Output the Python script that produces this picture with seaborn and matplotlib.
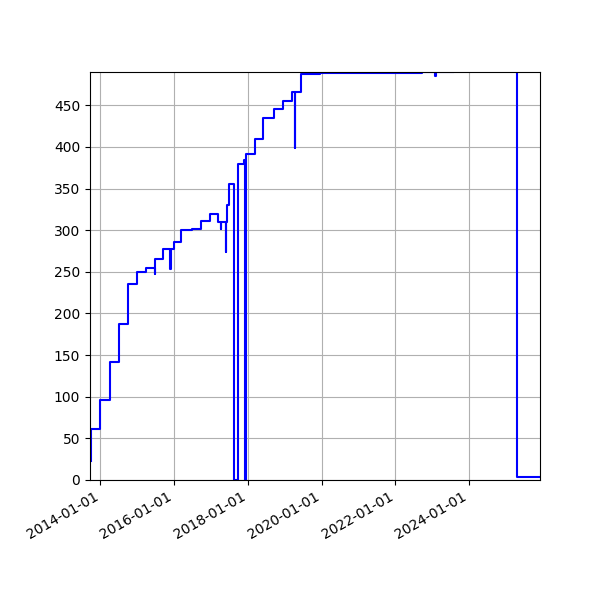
import matplotlib
matplotlib.use("Agg")
import matplotlib.pyplot as plt
import matplotlib.dates as mdates
from matplotlib.ticker import MultipleLocator
import pandas as pd
import seaborn as sns

dates = [
    "2013-09-26", "2013-09-27", "2013-12-24", "2014-04-02", "2014-07-01",
    "2014-10-01", "2014-12-28", "2015-04-01", "2015-06-21", "2015-06-24",
    "2015-09-12", "2015-11-25", "2015-11-28", "2015-12-30", "2016-03-12",
    "2016-06-29", "2016-09-19", "2016-12-17", "2017-03-09", "2017-04-11",
    "2017-04-14", "2017-05-27", "2017-05-30", "2017-06-07", "2017-06-24",
    "2017-08-12", "2017-09-20", "2017-11-22", "2017-12-07", "2017-12-11",
    "2018-03-17", "2018-06-04", "2018-09-21", "2018-12-12", "2019-03-15",
    "2019-04-13", "2019-04-16", "2019-06-16", "2019-12-17", "2022-09-18",
    "2023-02-01", "2023-02-04", "2023-08-01", "2025-04-20", "2025-12-05",
]
values = [
    23, 61, 96, 142, 187,
    235, 250, 255, 248, 266,
    277, 254, 277, 286, 300,
    302, 311, 320, 310, 302,
    310, 274, 310, 330, 356,
    0, 380, 384, 0, 391,
    410, 435, 445, 455, 466,
    399, 466, 487, 489, 490,
    485, 490, 500, 4, 4,
]

df = pd.DataFrame({"date": pd.to_datetime(dates), "value": values})

fig, ax = plt.subplots(figsize=(6, 6), dpi=100)
sns.lineplot(data=df, x="date", y="value", ax=ax, color="blue",
             linewidth=1.5, drawstyle="steps-post", estimator=None, sort=False)

ax.set_xlim(pd.Timestamp("2013-09-19"), pd.Timestamp("2025-12-05"))
ax.set_ylim(0, 490)
ax.yaxis.set_major_locator(MultipleLocator(50))
ax.xaxis.set_major_locator(mdates.YearLocator(2))
ax.xaxis.set_major_formatter(mdates.DateFormatter("%Y-%m-%d"))
ax.grid(True)
ax.set_xlabel("")
ax.set_ylabel("")
fig.autofmt_xdate()
fig.subplots_adjust(left=0.15, right=0.9, top=0.88, bottom=0.2)
fig.savefig("out.png", dpi=100)
